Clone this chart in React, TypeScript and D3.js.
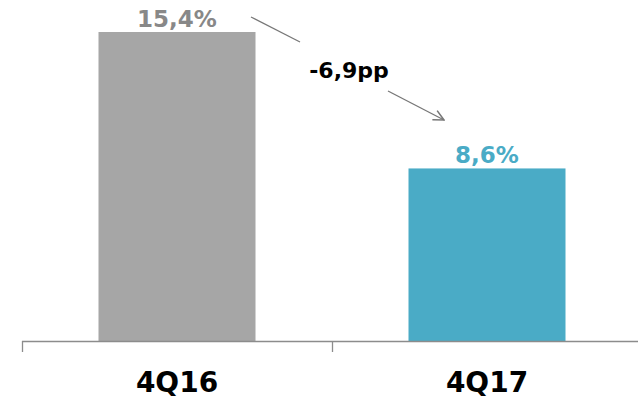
import React from "react";
import * as d3 from "d3";

const categories = ["4Q16", "4Q17"];
const values = [15.4, 8.6];
const valueLabels = ["15,4%", "8,6%"];
const deltaLabel = "-6,9pp";

const W = 638, H = 401;
const colors = ["#a6a6a6", "#4aabc6"];
const labelColors = ["#888888", "#4aabc6"];

export default function App() {
  const x = d3.scaleBand<string>().domain(categories).range([22, 642]).paddingInner(0).paddingOuter(0);
  const y = d3.scaleLinear().domain([0, 15.4]).range([341, 32]);
  const bw = 157;
  const font = "'DejaVu Sans', sans-serif";
  const cx = (c: string) => (x(c) as number) + x.bandwidth() / 2;
  return (
    <svg width={W} height={H} style={{ position: "absolute", left: 0, top: 0 }}>
      <defs>
        <marker id="ah" viewBox="0 0 10 10" refX="9" refY="5" markerWidth="13" markerHeight="13" orient="auto" markerUnits="userSpaceOnUse">
          <path d="M1,1 L9,5 L1,9" fill="none" stroke="#777" strokeWidth="1.2" />
        </marker>
      </defs>
      {categories.map((c, i) => (
        <g key={c}>
          <rect x={cx(c) - bw / 2} y={y(values[i])} width={bw} height={y(0) - y(values[i])} fill={colors[i]} />
          <text x={cx(c)} y={y(values[i]) - 5.5} textAnchor="middle" fontFamily={font} fontWeight="bold" fontSize={23} fill={labelColors[i]}>
            {valueLabels[i]}
          </text>
          <text x={cx(c)} y={392} textAnchor="middle" fontFamily={font} fontWeight="bold" fontSize={28} fill="#000">
            {c}
          </text>
        </g>
      ))}
      <line x1={22} x2={642} y1={341.5} y2={341.5} stroke="#8c8c8c" strokeWidth={1.3} />
      {[...categories.map((c) => x(c) as number), 642].map((t, i) => (
        <line key={i} x1={t + 0.5} x2={t + 0.5} y1={341} y2={352} stroke="#8c8c8c" strokeWidth={1.3} />
      ))}
      <line x1={251} y1={17} x2={300} y2={42} stroke="#777" strokeWidth={1.3} />
      <line x1={388} y1={91} x2={444} y2={120} stroke="#777" strokeWidth={1.3} markerEnd="url(#ah)" />
      <text x={349} y={78} textAnchor="middle" fontFamily={font} fontWeight="bold" fontSize={22} fill="#000">
        {deltaLabel}
      </text>
    </svg>
  );
}
